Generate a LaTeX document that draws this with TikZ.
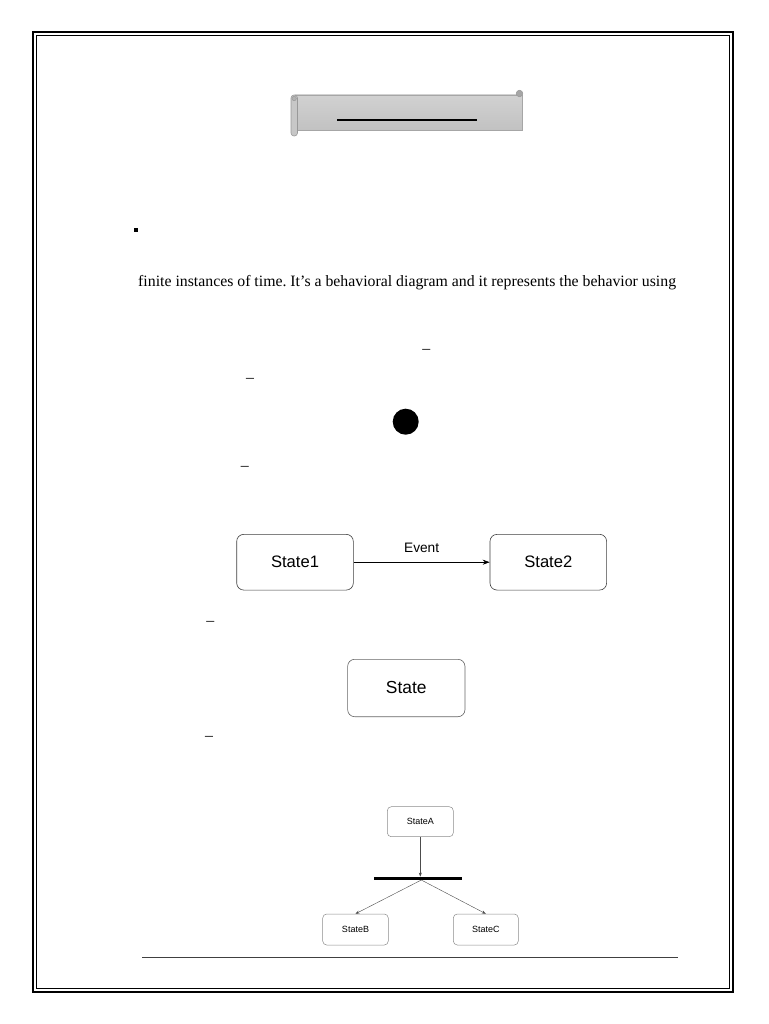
\documentclass[tikz,border=0pt]{standalone}
\usepackage{fontspec}
\setmainfont{Liberation Serif}
\setsansfont{Liberation Sans}
\usetikzlibrary{arrows.meta,calc}
\tikzset{
  bigstate/.style={draw=black!75, line width=0.6pt, rounded corners=7pt, fill=white, inner sep=0pt, font=\sffamily\fontsize{16.6}{18}\selectfont},
  smallstate/.style={draw=black!45, line width=0.5pt, rounded corners=4pt, fill=white, inner sep=0pt, minimum height=30pt, font=\sffamily\fontsize{9}{10}\selectfont},
  dashmark/.style={anchor=base, inner sep=0pt, font=\fontsize{15.8}{18}\selectfont},
  conn/.style={-{Stealth[length=7pt,width=5pt]}, line width=0.6pt},
  smallconn/.style={-{Stealth[length=4pt,width=3pt]}, line width=0.4pt, draw=black!70},
}
\begin{document}
\frenchspacing
\begin{tikzpicture}[x=1pt,y=-1pt]
\useasboundingbox (0,0) rectangle (768,1024);
\fill[white] (0,0) rectangle (768,1024);
% page border
\draw[line width=2pt] (33,32) rectangle (732.5,991.5);
\draw[line width=0.8pt] (36.5,35.5) rectangle (729.5,988);
% scroll banner
\shade[top color=black!18, bottom color=black!24] (295,95) rectangle (522,130);
\draw[black!35, line width=0.6pt] (295,95) rectangle (522,130);
\draw[fill=black!22, draw=black!40, line width=0.6pt, rounded corners=3pt] (291,95) rectangle (297.5,136);
\draw[fill=black!30, draw=black!40, line width=0.5pt] (294.2,98.5) circle (2.2);
\draw[fill=black!35, draw=black!40, line width=0.5pt] (519.5,93.5) circle (3.3);
\draw[line width=2pt] (337,120.5) -- (477,120.5);
% bullet
\fill (133.5,228) rectangle (137.5,232);
% text line
\node[anchor=base west, inner sep=0pt, font=\fontsize{15.8}{18}\selectfont] (txt) at (138,286)
  {finite instances of time. It’s a behavioral diagram and it represents the behavior using};
% dashes
\node[dashmark] (d1) at (426.4,353) {–};
\node[dashmark] (d2) at (250,382) {–};
\node[dashmark] (d3) at (244.7,470.5) {–};
\node[dashmark] (d4) at (210.3,625) {–};
\node[dashmark] (d5) at (209,740.5) {–};
% initial state
\fill (405.7,421.7) circle (13);
% State1 -> State2
\node[bigstate, minimum width=116.6pt, minimum height=55.7pt] (s1) at (295,562.2) {State1};
\node[bigstate, minimum width=116.6pt, minimum height=55.7pt] (s2) at (548.3,562.2) {State2};
\draw[conn] (s1) -- (s2) node[midway, above=6pt, font=\sffamily\fontsize{13.7}{15}\selectfont] {Event};
% State
\node[bigstate, draw=black!60, minimum width=117.3pt, minimum height=57.4pt, font=\sffamily\fontsize{17.4}{19}\selectfont] (st) at (406.3,688) {State};
% fork
\node[smallstate, minimum width=66pt] (sa) at (420.3,821.7) {StateA};
\node[fill=black, inner sep=0pt, minimum width=87.7pt, minimum height=3pt] (bar) at (417.8,878.3) {};
\node[smallstate, minimum width=65.6pt, minimum height=31pt] (sb) at (355.5,929.5) {StateB};
\node[smallstate, minimum width=65pt, minimum height=31pt] (sc) at (485.8,929.5) {StateC};
\draw[smallconn] (sa.south) -- (sa.south |- bar.north);
\draw[smallconn] ($(sa.south |- bar.south)+(1,0)$) -- (sb.north);
\draw[smallconn] ($(sa.south |- bar.south)+(1,0)$) -- (sc.north);
% footer rule
\draw[line width=1pt, black!75] (142,957) -- (678,957);
\end{tikzpicture}
\end{document}
